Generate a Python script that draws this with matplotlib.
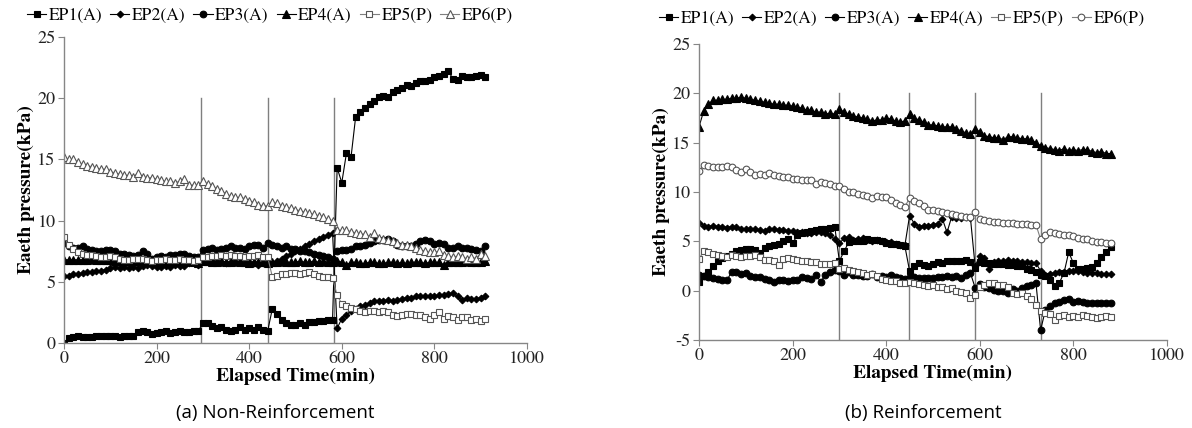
import numpy as np
import matplotlib
matplotlib.use('Agg')
import matplotlib.pyplot as plt

plt.rcParams['font.family'] = ['FreeSerif', 'DejaVu Serif']
plt.rcParams['lines.linewidth'] = 0.8

step = 10  # sampling interval (min)
labels = ['EP1(A)', 'EP2(A)', 'EP3(A)', 'EP4(A)', 'EP5(P)', 'EP6(P)']

# (a) Non-Reinforcement, t = 0..910 min
a_ep1 = [0.0, 0.4, 0.5, 0.6, 0.5, 0.5, 0.5, 0.6, 0.6, 0.6,
         0.6, 0.6, 0.5, 0.6, 0.6, 0.6, 0.9, 1.0, 0.9, 0.7,
         0.8, 0.9, 1.0, 0.8, 0.9, 1.0, 0.9, 0.9, 1.0, 1.0,
         1.6, 1.6, 1.4, 1.2, 1.3, 1.1, 1.0, 1.1, 1.3, 1.1,
         1.2, 1.1, 1.3, 1.1, 1.0, 2.8, 2.4, 1.9, 1.6, 1.5,
         1.5, 1.6, 1.5, 1.7, 1.7, 1.8, 1.8, 1.9, 1.9, 14.3,
         13.1, 15.5, 15.2, 18.5, 18.9, 19.2, 19.5, 19.8, 20.1, 20.2,
         20.1, 20.5, 20.7, 20.8, 21.1, 21.0, 21.2, 21.4, 21.4, 21.5,
         21.7, 21.8, 22.0, 22.2, 21.6, 21.5, 21.8, 21.7, 21.7, 21.8,
         21.9, 21.7]
a_ep2 = [5.5, 5.5, 5.6, 5.6, 5.7, 5.8, 5.8, 5.9, 5.9, 6.0,
         6.1, 6.2, 6.1, 6.2, 6.1, 6.2, 6.1, 6.3, 6.4, 6.3,
         6.2, 6.2, 6.3, 6.2, 6.4, 6.3, 6.3, 6.5, 6.5, 6.4,
         6.8, 6.7, 6.7, 6.6, 6.6, 6.5, 6.6, 6.6, 6.6, 6.5,
         6.6, 6.5, 6.4, 6.5, 6.6, 6.5, 6.7, 6.9, 7.1, 7.3,
         7.5, 7.7, 7.9, 8.1, 8.3, 8.5, 8.7, 8.8, 9.0, 1.2,
         2.0, 2.3, 2.6, 2.8, 3.0, 3.1, 3.3, 3.4, 3.4, 3.4,
         3.5, 3.4, 3.5, 3.6, 3.7, 3.7, 3.8, 3.8, 3.8, 3.8,
         3.8, 3.9, 3.9, 4.0, 4.1, 3.8, 3.5, 3.7, 3.6, 3.6,
         3.7, 3.8]
a_ep3 = [8.2, 7.9, 7.8, 7.8, 7.9, 7.7, 7.6, 7.5, 7.5, 7.6,
         7.6, 7.5, 7.3, 7.3, 7.2, 7.1, 7.2, 7.5, 7.3, 6.9,
         7.0, 7.1, 7.0, 7.2, 7.2, 7.3, 7.3, 7.1, 7.0, 7.0,
         7.6, 7.7, 7.8, 7.6, 7.7, 7.8, 7.9, 7.8, 7.8, 7.7,
         7.9, 8.0, 8.0, 7.8, 8.2, 8.0, 7.9, 7.8, 7.9, 7.7,
         7.7, 7.5, 7.5, 7.4, 7.3, 7.2, 7.1, 7.0, 6.9, 7.5,
         7.6, 7.6, 7.7, 7.9, 7.9, 8.0, 8.2, 8.3, 8.4, 8.4,
         8.5, 8.3, 8.0, 7.9, 7.9, 7.9, 8.1, 8.3, 8.4, 8.3,
         8.1, 8.2, 8.1, 7.8, 7.8, 7.9, 7.8, 7.8, 7.7, 7.6,
         7.5, 7.9]
a_ep4 = [6.8, 6.8, 6.8, 6.8, 6.8, 6.8, 6.9, 6.8, 6.8, 6.8,
         6.8, 6.7, 6.7, 6.8, 6.7, 6.7, 6.7, 6.8, 6.7, 6.7,
         6.6, 6.6, 6.7, 6.6, 6.7, 6.6, 6.6, 6.7, 6.6, 6.5,
         6.7, 6.7, 6.6, 6.6, 6.7, 6.6, 6.6, 6.7, 6.6, 6.6,
         6.5, 6.6, 6.6, 6.6, 6.5, 6.6, 6.6, 6.7, 6.6, 6.6,
         6.6, 6.7, 6.6, 6.6, 6.7, 6.6, 6.7, 6.6, 6.6, 6.7,
         6.6, 6.4, 6.6, 6.6, 6.5, 6.5, 6.6, 6.6, 6.5, 6.5,
         6.6, 6.6, 6.5, 6.6, 6.5, 6.6, 6.6, 6.6, 6.5, 6.6,
         6.6, 6.6, 6.4, 6.6, 6.6, 6.6, 6.6, 6.7, 6.6, 6.6,
         6.6, 6.7]
a_ep5 = [8.7, 8.0, 7.7, 7.4, 7.3, 7.2, 7.2, 7.1, 7.0, 7.0,
         7.1, 7.0, 6.9, 6.8, 6.8, 6.9, 6.9, 6.9, 6.8, 6.7,
         6.8, 6.8, 6.9, 6.8, 6.8, 6.9, 6.8, 6.8, 6.7, 6.8,
         7.0, 7.0, 7.1, 7.1, 7.2, 7.1, 7.2, 7.1, 7.1, 7.0,
         7.1, 7.1, 7.2, 7.0, 7.0, 5.4, 5.5, 5.6, 5.6, 5.7,
         5.7, 5.6, 5.7, 5.8, 5.6, 5.5, 5.4, 5.4, 5.3, 3.9,
         3.2, 3.0, 2.9, 2.8, 2.6, 2.5, 2.6, 2.6, 2.5, 2.6,
         2.5, 2.3, 2.2, 2.3, 2.4, 2.4, 2.3, 2.3, 2.1, 2.0,
         2.3, 2.5, 2.0, 2.2, 2.1, 1.9, 2.1, 2.1, 1.9, 2.0,
         1.8, 2.0]
a_ep6 = [15.2, 15.0, 15.0, 14.8, 14.6, 14.5, 14.4, 14.3, 14.2, 14.2,
         14.0, 13.9, 13.8, 13.7, 13.7, 13.6, 13.9, 13.6, 13.5, 13.5,
         13.4, 13.3, 13.2, 13.2, 13.1, 13.2, 13.4, 12.9, 12.9, 12.9,
         13.2, 13.0, 12.8, 12.6, 12.4, 12.2, 12.0, 11.9, 11.9, 11.8,
         11.6, 11.5, 11.3, 11.2, 11.2, 11.5, 11.4, 11.2, 11.1, 11.0,
         10.9, 10.8, 10.7, 10.6, 10.5, 10.4, 10.3, 10.1, 10.0, 9.2,
         9.2, 9.2, 9.1, 9.0, 8.9, 8.9, 8.7, 9.0, 8.6, 8.5,
         8.4, 8.3, 8.2, 8.0, 8.0, 7.9, 7.8, 7.6, 7.5, 7.4,
         7.4, 7.5, 7.2, 7.1, 7.0, 7.1, 7.0, 6.9, 7.0, 6.9,
         7.3, 7.1]
a_events = [295, 441, 583]

# (b) Reinforcement, t = 0..880 min
b_ep1 = [0.9, 1.5, 1.9, 2.5, 3.0, 3.3, 3.5, 3.7, 4.0, 4.1,
         4.2, 4.2, 4.1, 3.8, 4.3, 4.5, 4.6, 4.7, 5.0, 5.2,
         4.8, 5.6, 5.8, 5.9, 6.0, 6.1, 6.2, 6.3, 6.4, 6.5,
         3.0, 4.0, 4.9, 5.0, 5.0, 5.0, 5.2, 5.1, 5.1, 5.0,
         4.8, 4.7, 4.7, 4.6, 4.5, 2.0, 2.5, 2.8, 2.6, 2.5,
         2.7, 2.9, 2.8, 3.0, 3.0, 3.0, 3.0, 3.1, 2.9, 2.3,
         2.9, 2.8, 2.8, 2.7, 2.7, 2.7, 2.6, 2.6, 2.5, 2.5,
         2.2, 2.1, 1.9, 1.6, 1.5, 1.1, 0.5, 0.8, 1.8, 3.9,
         2.8, 2.2, 2.2, 2.3, 2.4, 2.8, 3.4, 3.9, 4.4]
b_ep2 = [6.9, 6.6, 6.5, 6.6, 6.5, 6.5, 6.4, 6.5, 6.5, 6.3,
         6.2, 6.3, 6.2, 6.1, 6.0, 6.2, 6.3, 6.1, 6.1, 6.0,
         6.0, 5.9, 5.9, 5.8, 5.8, 5.9, 5.9, 5.8, 5.6, 5.2,
         4.8, 5.3, 5.4, 5.1, 5.2, 5.3, 5.1, 5.0, 5.1, 5.0,
         4.9, 4.9, 4.7, 4.6, 4.6, 7.6, 6.8, 6.5, 6.6, 6.6,
         6.7, 6.8, 7.3, 5.9, 7.5, 7.4, 7.4, 7.5, 7.4, 2.5,
         3.5, 3.3, 2.2, 2.9, 3.0, 3.0, 3.1, 3.0, 3.0, 2.9,
         2.9, 2.8, 2.8, 2.0, 1.6, 1.7, 1.8, 1.9, 1.9, 2.0,
         2.0, 2.0, 1.9, 1.8, 1.8, 1.8, 1.7, 1.7, 1.7]
b_ep3 = [1.6, 1.5, 1.4, 1.3, 1.2, 1.1, 1.1, 1.9, 1.9, 1.7,
         1.8, 1.5, 1.4, 1.4, 1.2, 1.1, 0.9, 1.1, 1.1, 1.0,
         1.1, 1.1, 1.4, 1.3, 1.2, 1.6, 0.9, 1.6, 1.9, 2.1,
         2.0, 1.6, 1.9, 1.6, 1.6, 1.5, 1.5, 1.7, 1.4, 1.5,
         1.4, 1.6, 1.4, 1.3, 1.2, 1.4, 1.4, 1.3, 1.3, 1.3,
         1.3, 1.4, 1.4, 1.5, 1.4, 1.5, 1.3, 1.6, 1.8, 0.3,
         0.7, 0.4, 0.3, 0.1, 0.0, 0.0, -0.2, 0.2, 0.0, 0.3,
         0.5, 0.6, 0.8, -4.0, -2.0, -1.6, -1.3, -1.1, -0.9, -0.8,
         -1.1, -1.0, -1.1, -1.2, -1.2, -1.2, -1.3, -1.3, -1.2]
b_ep4 = [16.6, 18.2, 18.9, 19.3, 19.3, 19.4, 19.4, 19.5, 19.5, 19.6,
         19.5, 19.4, 19.3, 19.2, 19.1, 19.0, 18.9, 18.9, 18.8, 18.8,
         18.7, 18.6, 18.5, 18.3, 18.3, 18.1, 18.1, 17.9, 18.0, 17.9,
         18.4, 18.1, 17.9, 17.7, 17.6, 17.5, 17.4, 17.2, 17.3, 17.3,
         17.5, 17.4, 17.2, 17.1, 17.2, 17.9, 17.5, 17.3, 17.1, 16.8,
         16.8, 16.7, 16.6, 16.6, 16.6, 16.4, 16.2, 16.0, 15.9, 16.4,
         16.1, 15.7, 15.6, 15.5, 15.5, 15.3, 15.6, 15.6, 15.5, 15.4,
         15.4, 15.3, 15.0, 14.7, 14.5, 14.4, 14.3, 14.2, 14.4, 14.2,
         14.3, 14.2, 14.3, 14.3, 14.1, 14.0, 14.1, 13.9, 13.9]
b_ep5 = [3.2, 4.0, 3.9, 3.7, 3.6, 3.5, 3.4, 3.6, 3.5, 3.4,
         3.5, 3.5, 3.6, 3.4, 3.1, 3.1, 3.0, 2.6, 3.2, 3.3,
         3.2, 3.1, 3.0, 3.0, 2.9, 2.9, 2.7, 2.7, 2.7, 2.8,
         2.2, 2.3, 2.1, 2.0, 1.9, 1.8, 1.6, 1.7, 1.5, 1.2,
         1.1, 1.0, 1.0, 0.8, 0.8, 0.9, 0.8, 0.7, 0.6, 0.5,
         0.6, 0.4, 0.4, 0.2, 0.3, 0.0, -0.1, -0.2, -0.7, -0.4,
         0.4, 0.6, 0.8, 0.8, 0.6, 0.6, 0.4, -0.2, -0.3, -0.2,
         -0.5, -0.8, -1.5, -2.1, -2.3, -2.4, -3.0, -2.6, -2.5, -2.7,
         -2.6, -2.7, -2.5, -2.6, -2.7, -2.8, -2.7, -2.6, -2.7]
b_ep6 = [12.1, 12.7, 12.6, 12.5, 12.5, 12.5, 12.6, 12.5, 12.2, 12.0,
         12.3, 12.0, 11.7, 11.8, 11.7, 11.9, 11.7, 11.6, 11.5, 11.5,
         11.3, 11.3, 11.2, 11.2, 11.2, 10.8, 11.0, 10.9, 10.8, 10.6,
         10.6, 10.3, 10.0, 10.0, 9.8, 9.7, 9.6, 9.4, 9.6, 9.5,
         9.5, 9.2, 8.9, 8.7, 8.5, 9.4, 9.1, 8.9, 8.6, 8.2,
         8.2, 8.1, 8.0, 7.9, 7.8, 7.7, 7.6, 7.5, 7.5, 8.0,
         7.3, 7.2, 7.1, 7.0, 7.0, 6.9, 6.9, 6.9, 6.8, 6.8,
         6.8, 6.7, 6.7, 5.2, 5.6, 5.9, 5.8, 5.7, 5.6, 5.6,
         5.5, 5.3, 5.2, 5.2, 5.0, 4.9, 4.9, 4.8, 4.8]
b_events = [299, 449, 590, 731]

gray = '#7f7f7f'
# marker styles: (marker, facecolor, edgecolor, linecolor)
styles_a = [('s', 'black', 'black', 'black'),
            ('D', 'black', 'black', 'black'),
            ('o', 'black', 'black', 'black'),
            ('^', 'black', 'black', 'black'),
            ('s', 'white', '#555555', gray),
            ('^', 'white', '#555555', gray)]
styles_b = styles_a[:5] + [('o', 'white', '#555555', gray)]
sizes = {'s': 4.8, 'D': 3.4, 'o': 4.8, '^': 5.2}

fig = plt.figure(figsize=(11.92, 4.28), dpi=100)
ax1 = fig.add_axes([0.0537, 0.1986, 0.3884, 0.715])
ax2 = fig.add_axes([0.5864, 0.2056, 0.3926, 0.6916])


def draw(ax, series, styles, events, ymin):
    for vals, lab, (m, fc, ec, lc) in zip(series, labels, styles):
        t = np.arange(len(vals)) * step
        ax.plot(t, vals, color=lc, lw=0.8, marker=m, markersize=sizes[m],
                markerfacecolor=fc, markeredgecolor=ec, markeredgewidth=0.8,
                label=lab)
    for x in events:
        ax.plot([x, x], [ymin, 20], color=gray, lw=1.0, zorder=0)
    ax.set_xlim(0, 1000)
    ax.set_ylim(ymin, 25)
    ax.set_xticks(range(0, 1001, 200))
    ax.set_yticks(range(ymin, 26, 5))
    ax.set_xticklabels([str(v) for v in range(0, 1001, 200)], family='FreeSerif')
    ax.set_yticklabels([str(v) for v in range(ymin, 26, 5)], family='FreeSerif')
    for s in ['top', 'right']:
        ax.spines[s].set_visible(False)
    for s in ['left', 'bottom']:
        ax.spines[s].set_color('#868686')
        ax.spines[s].set_linewidth(1.0)
    ax.tick_params(direction='out', length=4, color='#868686', labelsize=13,
                   labelcolor='#222222', pad=2)
    ax.set_xlabel('Elapsed Time(min)', fontsize=14, fontweight='bold', labelpad=0)
    ax.set_ylabel('Eaeth pressure(kPa)', fontsize=14, fontweight='bold', labelpad=2)


draw(ax1, [a_ep1, a_ep2, a_ep3, a_ep4, a_ep5, a_ep6], styles_a, a_events, 0)
draw(ax2, [b_ep1, b_ep2, b_ep3, b_ep4, b_ep5, b_ep6], styles_b, b_events, -5)

leg_kw = dict(ncol=6, frameon=False, handlelength=1.1, fontsize=12.5,
              handletextpad=0.15, columnspacing=0.45, borderaxespad=0,
              bbox_transform=fig.transFigure, loc='center left')
ax1.legend(bbox_to_anchor=(0.017, 0.962), **leg_kw)
ax2.legend(bbox_to_anchor=(0.547, 0.955), **leg_kw)

fig.text(0.231, 0.035, '(a) Non-Reinforcement', fontsize=13.5, family='Open Sans',
         ha='center', va='center')
fig.text(0.775, 0.035, '(b) Reinforcement', fontsize=13.5, family='Open Sans',
         ha='center', va='center')

fig.savefig('out.png', dpi=100)
